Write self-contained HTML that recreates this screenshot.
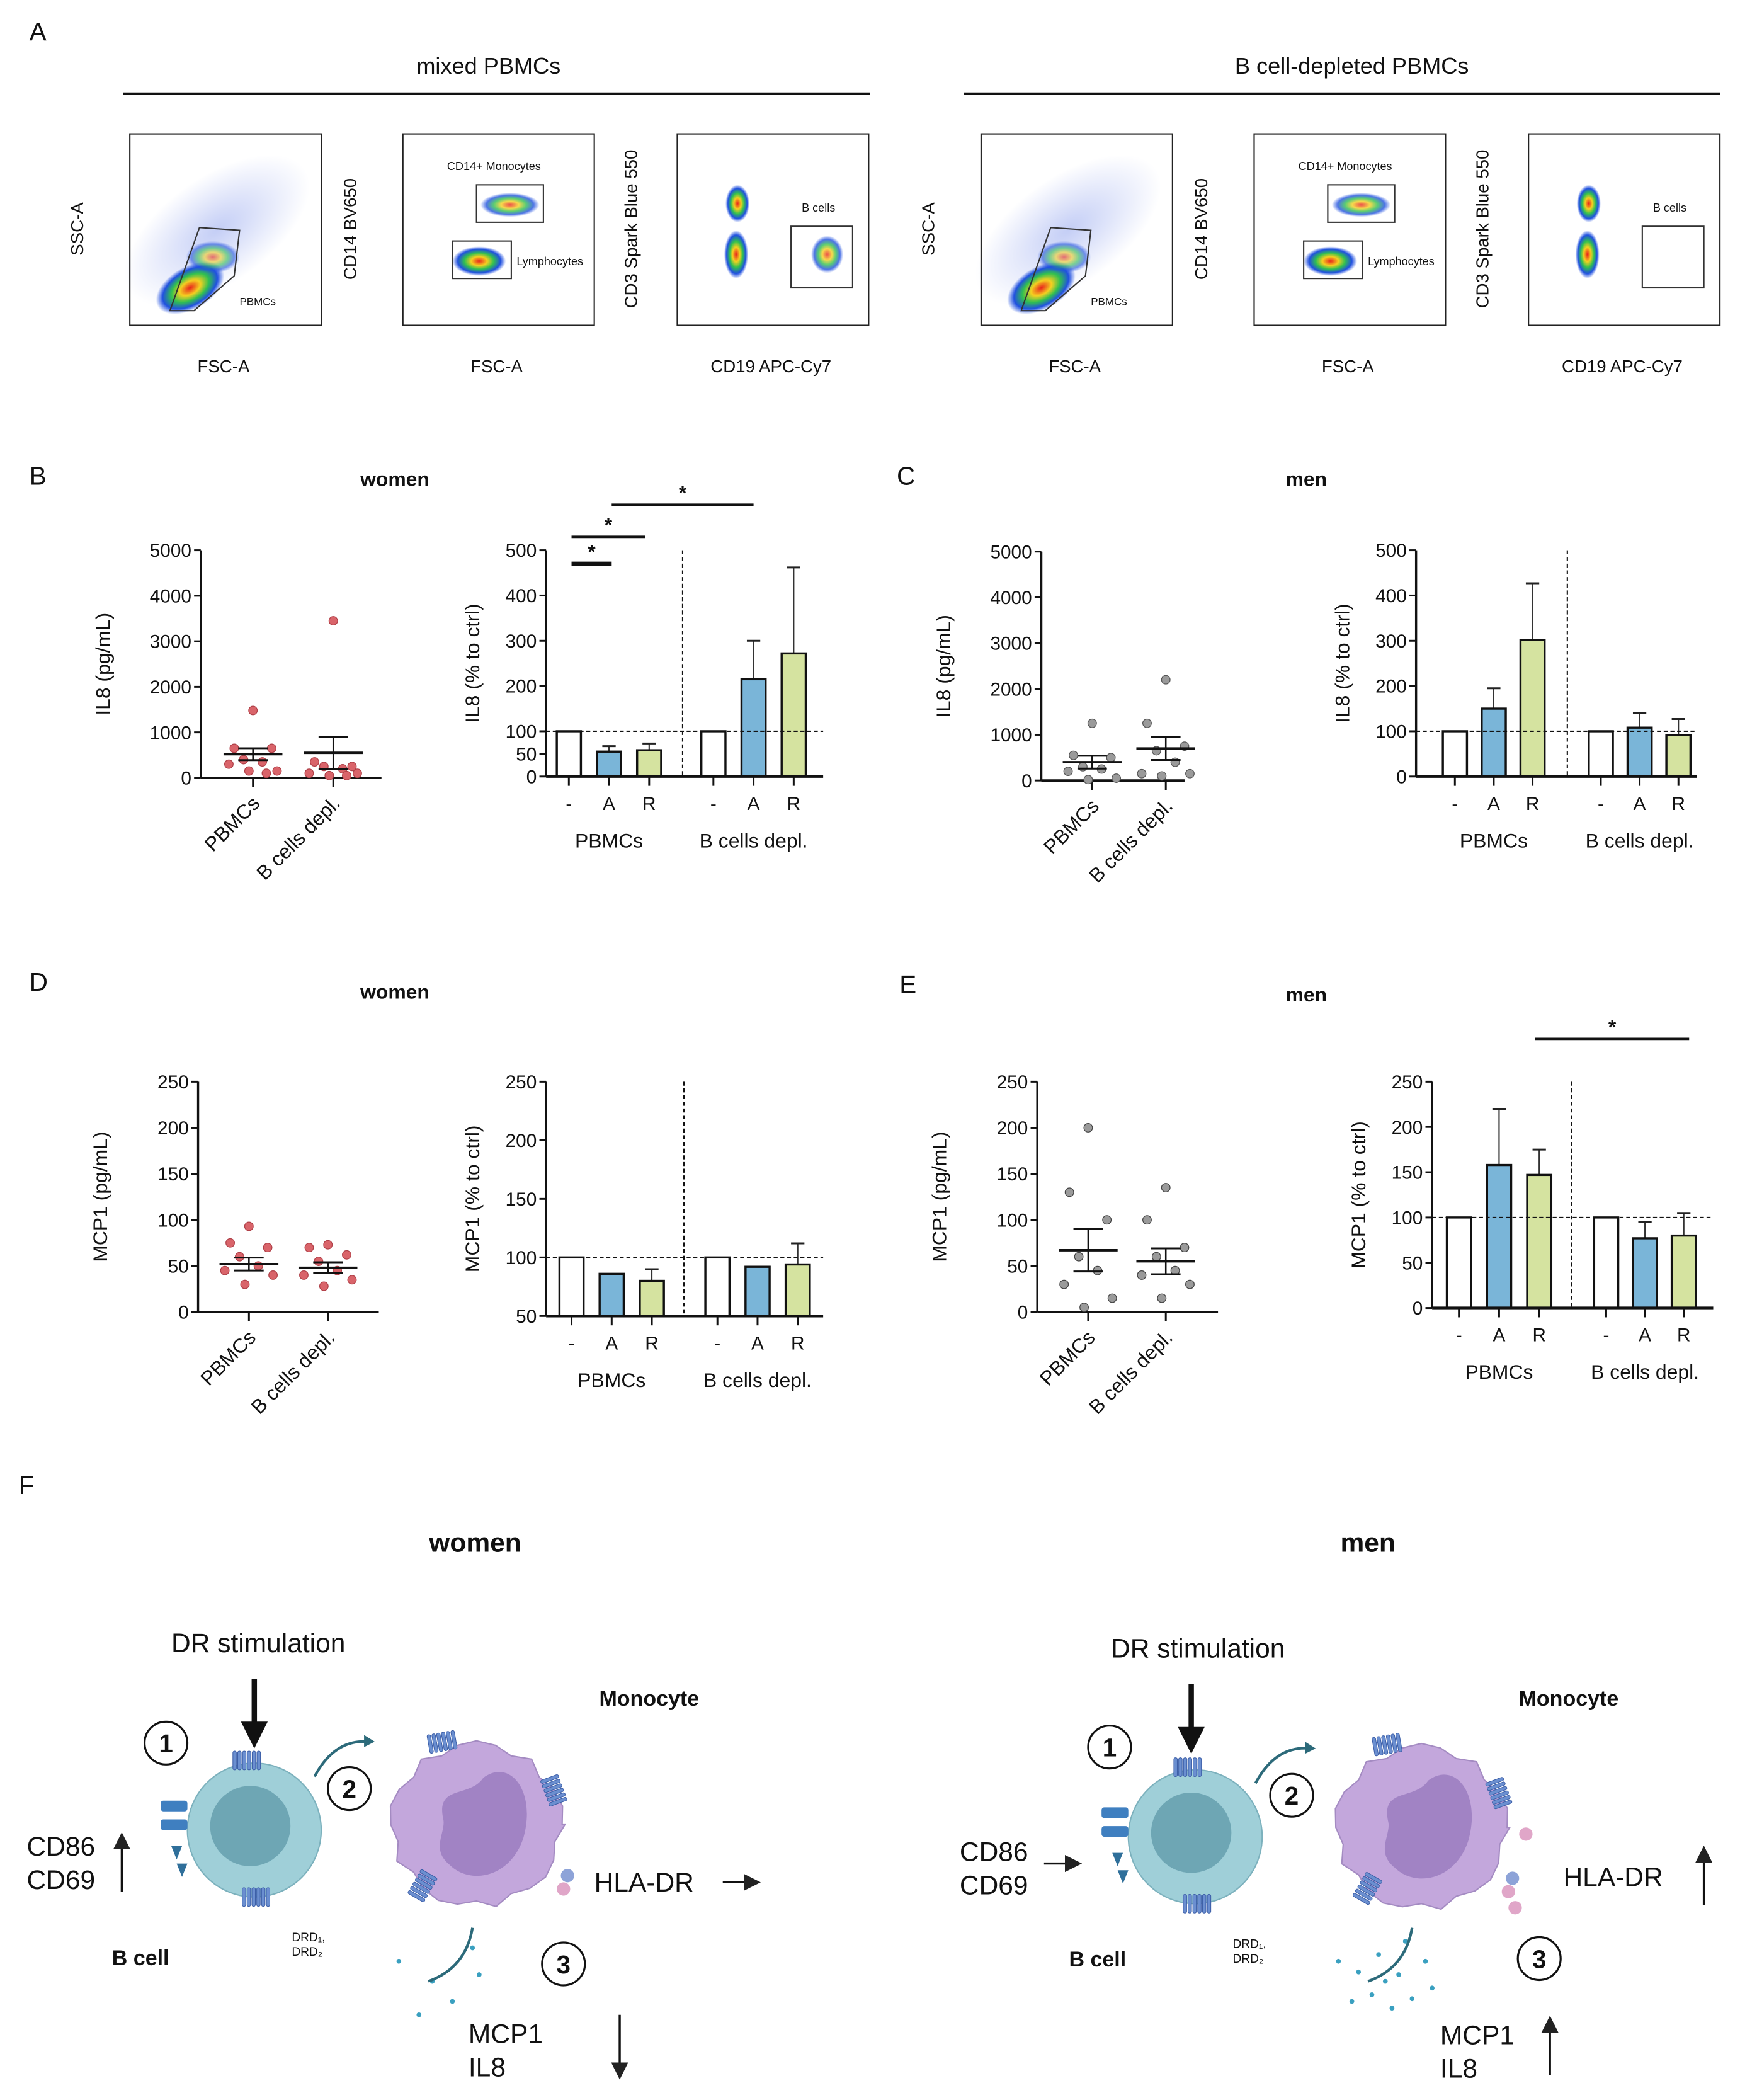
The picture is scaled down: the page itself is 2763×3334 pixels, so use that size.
<!DOCTYPE html>
<html><head><meta charset="utf-8"><style>
html,body{margin:0;padding:0;background:#fff;}
svg{display:block;font-family:"Liberation Sans",sans-serif;}
</style></head><body>
<svg id="fig" width="2763" height="3334" viewBox="0 0 1300 1568.6" xmlns="http://www.w3.org/2000/svg">
<defs>
<radialGradient id="dens" cx="50%" cy="50%" r="50%">
<stop offset="0" stop-color="#e8201c"/><stop offset="0.3" stop-color="#f5d020"/><stop offset="0.55" stop-color="#30c050"/><stop offset="0.8" stop-color="#2050e0"/><stop offset="1" stop-color="#2050e0" stop-opacity="0"/>
</radialGradient>
<radialGradient id="haze" cx="50%" cy="50%" r="50%">
<stop offset="0" stop-color="#3a5be0" stop-opacity="0.3"/><stop offset="1" stop-color="#3a5be0" stop-opacity="0"/>
</radialGradient>
<marker id="ah" markerWidth="8" markerHeight="8" refX="4" refY="4" orient="auto"><path d="M0,0 L8,4 L0,8 z" fill="#222"/></marker>
</defs>
<g id="root"></g>
</svg>
<script>
// ---------- data ----------
const B_scatCats = ["PBMCs","B cells depl."];
const B_pbmc = [1480,650,650,400,350,300,150,150,100];
const B_bdepl = [3450,350,250,250,200,100,100,50,50];
const B_means = [520,550];
const B_sems = [130,350];
const B_barVals = [100,55,58,100,215,272];
const B_barErrs = [0,12,15,0,85,190];
const C_pbmc = [1250,550,500,300,250,200,50,20];
const C_bdepl = [2200,1250,750,650,400,150,150,100];
const C_means = [400,700];
const C_sems = [140,250];
const C_barVals = [100,150,302,100,108,92];
const C_barErrs = [0,45,125,0,33,35];
const D_pbmc = [93,75,70,60,50,45,40,30];
const D_bdepl = [73,70,62,55,45,40,35,28];
const D_means = [52,48];
const D_sems = [7,6];
const D_barVals = [100,86,80,100,92,94];
const D_barErrs = [0,0,10,0,0,18];
const E_pbmc = [200,130,100,60,45,30,15,5];
const E_bdepl = [135,100,70,60,45,40,30,15];
const E_means = [67,55];
const E_sems = [23,14];
const E_barVals = [100,158,147,100,77,80];
const E_barErrs = [0,62,28,0,18,25];
const barLabels = ["-","A","R","-","A","R"];
const IL8ticks = [0,1000,2000,3000,4000,5000];
const IL8pct = [0,50,100,200,300,400,500];
const MCPticks = [0,50,100,150,200,250];
const MCPpct = [50,100,150,200,250];

const NS="http://www.w3.org/2000/svg";
const root=document.getElementById('root');
function el(tag,attrs,parent,txt){const e=document.createElementNS(NS,tag);for(const k in attrs)e.setAttribute(k,attrs[k]);if(txt!==undefined)e.textContent=txt;(parent||root).appendChild(e);return e;}
function text(x,y,s,size,opts,parent){const a=Object.assign({x:x,y:y,'font-size':size,fill:'#111'},opts||{});return el('text',a,parent,s);}

function scatter(name,p){
  const g=el('g',{});
  
  
  const y=v=>p.yBot-(v-p.min)/(p.max-p.min)*(p.yBot-p.yTop);
  el('line',{x1:p.x0,y1:p.yTop,x2:p.x0,y2:p.yBot,stroke:'#111','stroke-width':1.6},g);
  el('line',{x1:p.x0,y1:p.yBot,x2:p.x1,y2:p.yBot,stroke:'#111','stroke-width':1.8},g);
  p.ticks.forEach(t=>{el('line',{x1:p.x0-5,y1:y(t),x2:p.x0,y2:y(t),stroke:'#111','stroke-width':1.4},g);
    const tl=text(p.x0-7,y(t)+5,String(t),14,{'text-anchor':'end'},g);
    });
  const yt=text(0,0,p.title,15,{'text-anchor':'middle',transform:`translate(${p.x0-68},${(p.yTop+p.yBot)/2}) rotate(-90)`},g);
  
  const jit=[0,-14,14,-7,7,-18,18,-3,10];
  [p.a,p.b].forEach((arr,i)=>{
    const cx=p.cx[i];
    el('line',{x1:cx,y1:p.yBot,x2:cx,y2:p.yBot+7,stroke:'#111','stroke-width':1.4},g);
    arr.forEach((v,j)=>{const off=jit[j%jit.length];
      const c=el('circle',{cx:cx+off,cy:y(v),r:3.2,fill:p.color,stroke:p.stroke,'stroke-width':0.6},g);
      });
    const m=el('line',{x1:cx-22,y1:y(p.means[i]),x2:cx+22,y2:y(p.means[i]),stroke:'#111','stroke-width':1.8},g);
    
    el('line',{x1:cx,y1:y(p.means[i]-p.sems[i]),x2:cx,y2:y(p.means[i]+p.sems[i]),stroke:'#111','stroke-width':1.2},g);
    el('line',{x1:cx-11,y1:y(p.means[i]+p.sems[i]),x2:cx+11,y2:y(p.means[i]+p.sems[i]),stroke:'#111','stroke-width':1.4},g);
    el('line',{x1:cx-11,y1:y(p.means[i]-p.sems[i]),x2:cx+11,y2:y(p.means[i]-p.sems[i]),stroke:'#111','stroke-width':1.4},g);
    const cl=text(0,0,B_scatCats[i],15,{'text-anchor':'end',transform:`translate(${cx+6},${p.yBot+20}) rotate(-45)`},g);
    
  });
}

function bars(name,p){
  const g=el('g',{});
  
  
  const y=v=>p.yBot-(v-p.min)/(p.max-p.min)*(p.yBot-p.yTop);
  const colors=['#ffffff','#7ab5d8','#d5e3a0'];
  p.vals.forEach((v,i)=>{
    const cx=p.cx[i],w=18;
    if(p.errs[i]>0){el('line',{x1:cx,y1:y(v),x2:cx,y2:y(v+p.errs[i]),stroke:'#333','stroke-width':1},g);
      el('line',{x1:cx-5,y1:y(v+p.errs[i]),x2:cx+5,y2:y(v+p.errs[i]),stroke:'#222','stroke-width':1.4},g);}
    const r=el('rect',{x:cx-w/2,y:y(v),width:w,height:p.yBot-y(v),fill:colors[i%3],stroke:'#111','stroke-width':1.6},g);
    
    el('line',{x1:cx,y1:p.yBot,x2:cx,y2:p.yBot+7,stroke:'#111','stroke-width':1.4},g);
    const bl=text(cx,p.yBot+25,barLabels[i],14,{'text-anchor':'middle'},g);
    
  });
  el('line',{x1:p.x0,y1:p.yTop,x2:p.x0,y2:p.yBot,stroke:'#111','stroke-width':1.6},g);
  el('line',{x1:p.x0,y1:p.yBot,x2:p.x1,y2:p.yBot,stroke:'#111','stroke-width':2},g);
  el('line',{x1:p.x0,y1:y(100),x2:p.x1,y2:y(100),stroke:'#111','stroke-width':1,'stroke-dasharray':'3,2'},g);
  el('line',{x1:p.vx,y1:p.yTop,x2:p.vx,y2:p.yBot,stroke:'#111','stroke-width':1,'stroke-dasharray':'3,2'},g);
  p.ticks.forEach(t=>{el('line',{x1:p.x0-5,y1:y(t),x2:p.x0,y2:y(t),stroke:'#111','stroke-width':1.4},g);
    const tl=text(p.x0-7,y(t)+5,String(t),14,{'text-anchor':'end'},g);
    });
  const yt=text(0,0,p.title,15,{'text-anchor':'middle',transform:`translate(${p.x0-50},${(p.yTop+p.yBot)/2}) rotate(-90)`},g);
  
  const g1=text((p.cx[0]+p.cx[2])/2,p.yBot+53,'PBMCs',15,{'text-anchor':'middle'},g);
  
  const g2=text((p.cx[3]+p.cx[5])/2,p.yBot+53,'B cells depl.',15,{'text-anchor':'middle'},g);
  
  (p.sig||[]).forEach(s=>{el('line',{x1:s[0],y1:s[2],x2:s[1],y2:s[2],stroke:'#111','stroke-width':s[3]||1.8},g);
    const st=text((s[0]+s[1])/2,s[2]-4,'*',15,{'text-anchor':'middle','font-weight':'bold'},g);
    });
}

function label(x,y,s,size,opts,name){const t=text(x,y,s,size,opts);return t;}

// ---------- Panel A ----------
label(22,30,'A',19,{},'panel-label-a');
label(365,55,'mixed PBMCs',17,{'text-anchor':'middle'},'mixed-pbmcs-title');
label(1010,55,'B cell-depleted PBMCs',17,{'text-anchor':'middle'},'b-depleted-title');
el('line',{x1:92,y1:70,x2:650,y2:70,stroke:'#111','stroke-width':2});
el('line',{x1:720,y1:70,x2:1285,y2:70,stroke:'#111','stroke-width':2});
function flow(x,type,ylab,xlab,depleted){
  const g=el('g',{});
  
  
  el('rect',{x:x,y:100,width:143,height:143,fill:'#fff',stroke:'#222','stroke-width':1},g);
  if(type===0){
    el('ellipse',{cx:x+65,cy:172,rx:80,ry:40,fill:'url(#haze)',transform:`rotate(-35 ${x+65} 172)`},g);
    el('ellipse',{cx:x+45,cy:215,rx:28,ry:16,fill:'url(#dens)',transform:`rotate(-30 ${x+45} 215)`},g);
    el('ellipse',{cx:x+62,cy:192,rx:20,ry:12,fill:'url(#dens)',opacity:0.6},g);
    el('path',{d:`M${x+30},${232} L${x+52},${170} L${x+82},${172} L${x+78},${206} L${x+48},${232} z`,fill:'none',stroke:'#333','stroke-width':1},g);
    text(x+82,228,'PBMCs',8,{},g);
  } else if(type===1){
    el('rect',{x:x+55,y:138,width:50,height:28,fill:'none',stroke:'#333','stroke-width':1},g);
    el('ellipse',{cx:x+80,cy:153,rx:22,ry:9,fill:'url(#dens)',opacity:0.8},g);
    el('rect',{x:x+37,y:180,width:44,height:28,fill:'none',stroke:'#333','stroke-width':1},g);
    el('ellipse',{cx:x+57,cy:195,rx:20,ry:11,fill:'url(#dens)'},g);
    text(x+33,127,'CD14+ Monocytes',8.5,{},g);
    text(x+85,198,'Lymphocytes',8.5,{},g);
  } else {
    el('ellipse',{cx:x+45,cy:152,rx:9,ry:14,fill:'url(#dens)'},g);
    el('ellipse',{cx:x+44,cy:190,rx:9,ry:18,fill:'url(#dens)'},g);
    if(!depleted) el('ellipse',{cx:x+112,cy:190,rx:12,ry:14,fill:'url(#dens)',opacity:0.8},g);
    el('rect',{x:x+85,y:169,width:46,height:46,fill:'none',stroke:'#333','stroke-width':1},g);
    text(x+93,158,'B cells',8.5,{},g);
  }
  text(0,0,ylab,13,{'text-anchor':'middle',transform:`translate(${x-(type===2?30:35)},${171}) rotate(-90)`},g);
  text(x+70,278,xlab,13,{'text-anchor':'middle'},g);
}
[97,733].forEach((x0,k)=>{
  flow(x0,0,'SSC-A','FSC-A',k===1);
  flow(x0+204,1,'CD14 BV650','FSC-A',k===1);
  flow(x0+409,2,'CD3 Spark Blue 550','CD19 APC-Cy7',k===1);
});

// ---------- Panel B ----------
label(22,362,'B',19,{},'panel-label-b');
label(295,363,'women',15,{'text-anchor':'middle','font-weight':'bold'},'women-title-b');
scatter('il8-women-scatter',{x0:150,x1:285,yTop:411,yBot:581,min:0,max:5000,ticks:IL8ticks,cx:[189,249],a:B_pbmc,b:B_bdepl,means:B_means,sems:B_sems,color:'#d9646a',stroke:'#b04048',title:'IL8 (pg/mL)'});
bars('il8-women-bars',{x0:408,x1:615,yTop:411,yBot:580,min:0,max:500,ticks:IL8pct,cx:[425,455,485,533,563,593],vals:B_barVals,errs:B_barErrs,vx:510,title:'IL8 (% to ctrl)',sig:[[427,457,421,3],[427,482,401],[457,563,377]]});

// ---------- Panel C ----------
label(670,362,'C',19,{},'panel-label-c');
label(976,363,'men',15,{'text-anchor':'middle','font-weight':'bold'},'men-title-c');
scatter('il8-men-scatter',{x0:778,x1:885,yTop:412,yBot:583,min:0,max:5000,ticks:IL8ticks,cx:[816,871],a:C_pbmc,b:C_bdepl,means:C_means,sems:C_sems,color:'#9a9a9a',stroke:'#555',title:'IL8 (pg/mL)'});
bars('il8-men-bars',{x0:1058,x1:1268,yTop:411,yBot:580,min:0,max:500,ticks:[0,100,200,300,400,500],cx:[1087,1116,1145,1196,1225,1254],vals:C_barVals,errs:C_barErrs,vx:1171,title:'IL8 (% to ctrl)'});

// ---------- Panel D ----------
label(22,740,'D',19,{},'panel-label-d');
label(295,746,'women',15,{'text-anchor':'middle','font-weight':'bold'},'women-title-d');
scatter('mcp1-women-scatter',{x0:148,x1:283,yTop:808,yBot:980,min:0,max:250,ticks:MCPticks,cx:[186,245],a:D_pbmc,b:D_bdepl,means:D_means,sems:D_sems,color:'#d9646a',stroke:'#b04048',title:'MCP1 (pg/mL)'});
bars('mcp1-women-bars',{x0:408,x1:615,yTop:808,yBot:983,min:50,max:250,ticks:MCPpct,cx:[427,457,487,536,566,596],vals:D_barVals,errs:D_barErrs,vx:511,title:'MCP1 (% to ctrl)'});

// ---------- Panel E ----------
label(672,742,'E',19,{},'panel-label-e');
label(976,748,'men',15,{'text-anchor':'middle','font-weight':'bold'},'men-title-e');
scatter('mcp1-men-scatter',{x0:775,x1:910,yTop:808,yBot:980,min:0,max:250,ticks:MCPticks,cx:[813,871],a:E_pbmc,b:E_bdepl,means:E_means,sems:E_sems,color:'#9a9a9a',stroke:'#444',title:'MCP1 (pg/mL)'});
bars('mcp1-men-bars',{x0:1070,x1:1280,yTop:808,yBot:977,min:0,max:250,ticks:MCPticks,cx:[1090,1120,1150,1200,1229,1258],vals:E_barVals,errs:E_barErrs,vx:1174,title:'MCP1 (% to ctrl)',sig:[[1147,1262,776]]});

// ---------- Panel F ----------
label(14,1116,'F',19,{},'panel-label-f');
label(355,1159,'women',20,{'text-anchor':'middle','font-weight':'bold'},'women-title-f');
label(1022,1159,'men',20,{'text-anchor':'middle','font-weight':'bold'},'men-title-f');
function circ(x,y,n,name){const g=el('g',{});
  el('circle',{cx:x,cy:y,r:16,fill:'#fff',stroke:'#111','stroke-width':1.5},g);text(x,y+7,n,19,{'text-anchor':'middle','font-weight':'bold'},g);}
function receptor(x,y,rot,g){const gg=el('g',{transform:`translate(${x},${y}) rotate(${rot})`},g);
  for(let i=0;i<6;i++)el('rect',{x:i*3.6-11,y:-7,width:2.6,height:14,rx:1.2,fill:'#6b8fd0',stroke:'#3d5fa8','stroke-width':0.5},gg);}
function schematic(o,women){
  const g=el('g',{});
  
  
  const bx=o.bx,by=o.by,mx=o.mx,my=o.my;
  text(o.dx,o.dy,'DR stimulation',20,{'text-anchor':'middle'},g);
  el('line',{x1:o.ax,y1:o.dy+20,x2:o.ax,y2:o.dy+55,stroke:'#111','stroke-width':4},g);
  el('path',{d:`M${o.ax-10},${o.dy+52} L${o.ax+10},${o.dy+52} L${o.ax},${o.dy+72} z`,fill:'#111'},g);
  el('circle',{cx:bx,cy:by,r:50,fill:'#9fcfd8',stroke:'#7cb1bd','stroke-width':1},g);
  el('circle',{cx:bx-3,cy:by-3,r:30,fill:'#5e98a8',opacity:0.75},g);
  receptor(bx-5,by-52,0,g);receptor(bx+2,by+50,0,g);
  [[-70,-22],[-70,-8]].forEach(d=>el('rect',{x:bx+d[0],y:by+d[1],width:20,height:8,rx:2,fill:'#3f7fc0'},g));
  [[-62,12],[-58,25]].forEach(d=>el('path',{d:`M${bx+d[0]},${by+d[1]} l8,0 l-4,10 z`,fill:'#2f6f9a'},g));
  text(bx+28,by+83,'DRD\u2081,',9,{},g);text(bx+28,by+94,'DRD\u2082',9,{},g);
  text(o.blx,o.bly,'B cell',16,{'font-weight':'bold','text-anchor':'middle'},g);
  el('path',{d:`M${bx+45},${by-40} Q${bx+60},${by-68} ${bx+85},${by-66}`,fill:'none',stroke:'#2c6a7a','stroke-width':2},g);
  el('path',{d:`M${bx+82},${by-71} l8,5 l-8,4 z`,fill:'#2c6a7a'},g);
  let d='';const N=28;for(let i=0;i<=N;i++){const a=i/N*2*Math.PI;const r=62+((i%3)===0?4:(i%2?-2:2));d+=(i?'L':'M')+(mx+Math.cos(a)*r).toFixed(1)+','+(my+Math.sin(a)*r*0.95).toFixed(1);}
  el('path',{d:d+'z',fill:'#c3a7dc',stroke:'#a48bc2','stroke-width':1},g);
  el('path',{d:`M${mx-25},${my-5} C${mx-30},${my-30} ${mx-5},${my-20} ${mx+5},${my-35} C${mx+25},${my-50} ${mx+45},${my-25} ${mx+35},${my+10} C${mx+25},${my+40} ${mx-5},${my+45} ${mx-20},${my+30} C${mx-35},${my+18} ${mx-22},${my+5} ${mx-25},${my-5} z`,fill:'#a183c4'},g);
  receptor(mx-25,my-62,-10,g);receptor(mx+58,my-25,70,g);receptor(mx-40,my+45,-60,g);
  el('circle',{cx:mx+68,cy:my+38,r:5,fill:'#8da3d8'},g);el('circle',{cx:mx+65,cy:my+48,r:5,fill:'#e0a6c8'},g);
  if(!women){el('circle',{cx:mx+78,cy:my+5,r:5,fill:'#e0a6c8'},g);el('circle',{cx:mx+70,cy:my+60,r:5,fill:'#e0a6c8'},g);}
  text(o.monx,o.mony,'Monocyte',16,{'font-weight':'bold','text-anchor':'middle'},g);
  const dots=women?[[0,0],[25,15],[40,30],[15,40],[55,-10],[60,10]]:[[0,0],[15,8],[30,-5],[45,10],[25,25],[55,28],[10,30],[40,35],[65,0],[70,20],[50,-15],[35,15]];
  dots.forEach(p=>el('circle',{cx:o.cx+p[0],cy:o.cy+p[1],r:1.8,fill:'#3aa0c0'},g));
  el('path',{d:`M${o.cx+55},${o.cy-25} Q${o.cx+50},${o.cy+5} ${o.cx+22},${o.cy+15}`,fill:'none',stroke:'#2c6a7a','stroke-width':2},g);
  text(o.cdx,o.cdy,'CD86',20,{},g);text(o.cdx,o.cdy+25,'CD69',20,{},g);
  text(o.hx,o.hy,'HLA-DR',20,{},g);
  text(o.mcx,o.mcy,'MCP1',20,{},g);text(o.mcx,o.mcy+25,'IL8',20,{},g);
  circ(o.c1[0],o.c1[1],'1','step-1');circ(o.c2[0],o.c2[1],'2','step-2');circ(o.c3[0],o.c3[1],'3','step-3');
  return g;
}
schematic({dx:193,dy:1234,ax:190,bx:190,by:1367,mx:356,my:1363,blx:105,bly:1468,monx:485,mony:1274,cx:298,cy:1465,cdx:20,cdy:1386,hx:444,hy:1413,mcx:350,mcy:1526,c1:[124,1302],c2:[261,1336],c3:[421,1467]},true);
el('line',{x1:91,y1:1413,x2:91,y2:1375,stroke:'#111','stroke-width':1.6,'marker-end':'url(#ah)'});
el('line',{x1:540,y1:1406,x2:562,y2:1406,stroke:'#111','stroke-width':1.6,'marker-end':'url(#ah)'});
el('line',{x1:463,y1:1505,x2:463,y2:1547,stroke:'#111','stroke-width':1.6,'marker-end':'url(#ah)'});
schematic({dx:895,dy:1238,ax:890,bx:893,by:1372,mx:1062,my:1365,blx:820,bly:1469,monx:1172,mony:1274,cx:1000,cy:1465,cdx:717,cdy:1390,hx:1168,hy:1409,mcx:1076,mcy:1527,c1:[829,1305],c2:[965,1341],c3:[1150,1463]},false);
el('line',{x1:780,y1:1392,x2:802,y2:1392,stroke:'#111','stroke-width':1.6,'marker-end':'url(#ah)'});
el('line',{x1:1273,y1:1423,x2:1273,y2:1385,stroke:'#111','stroke-width':1.6,'marker-end':'url(#ah)'});
el('line',{x1:1158,y1:1550,x2:1158,y2:1512,stroke:'#111','stroke-width':1.6,'marker-end':'url(#ah)'});
</script>
</body></html>
